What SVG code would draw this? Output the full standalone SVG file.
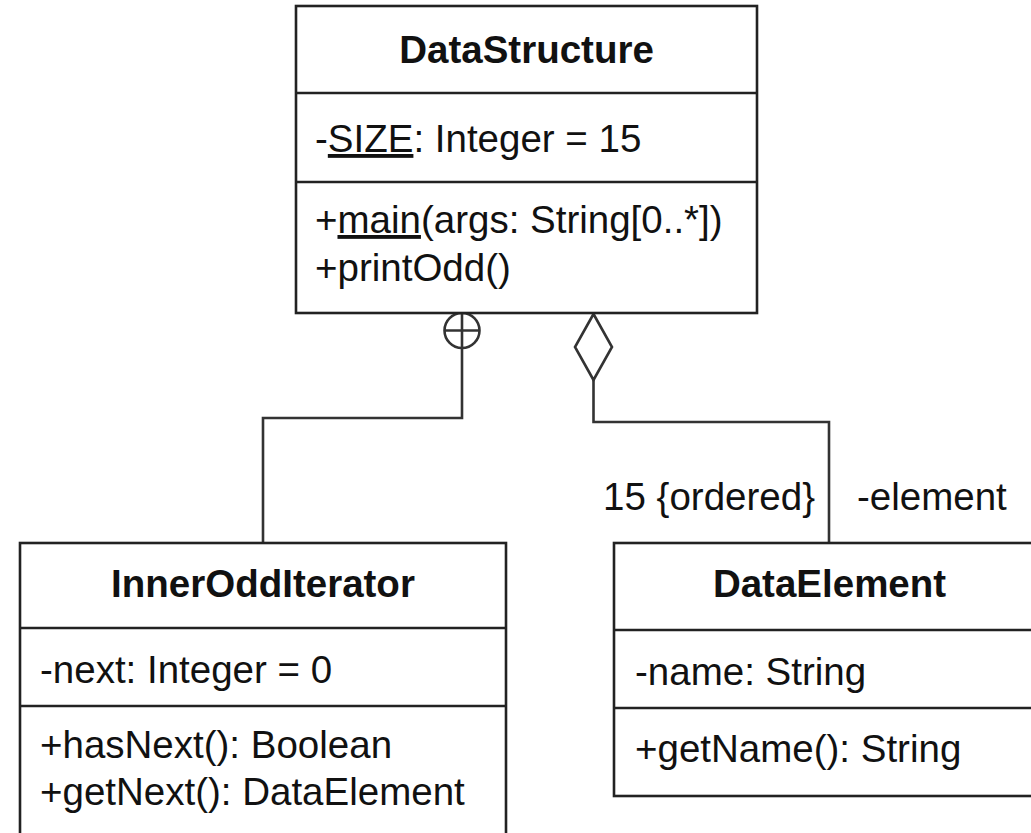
<svg xmlns="http://www.w3.org/2000/svg" width="1031" height="833" viewBox="0 0 1031 833">
<style>
.box{fill:#fff;stroke:#222;stroke-width:2.6}
.sep{stroke:#222;stroke-width:2.6}
.ln{fill:none;stroke:#333;stroke-width:2.6}
.t{font-family:"Liberation Sans",Arial,sans-serif;font-size:38.5px;fill:#111}
.b{font-weight:bold;text-anchor:middle}
.u{text-decoration:underline}
</style>
<rect width="1031" height="833" fill="#fff"/>
<g id="connectors">
<circle class="ln" cx="462" cy="330.5" r="17.5"/>
<line class="ln" x1="444.5" y1="330.5" x2="479.5" y2="330.5"/>
<polyline class="ln" points="462,313 462,418 263,418 263,543"/>
<polygon class="ln" points="593.5,314 612,347 593.5,380 575,347"/>
<polyline class="ln" points="593.5,380 593.5,422 829,422 829,543"/>
<text class="t" x="815" y="510" text-anchor="end">15 {ordered}</text>
<text class="t" x="857" y="510">-element</text>
</g>
<g id="DataStructure">
<rect class="box" x="296" y="6" width="461" height="307"/>
<line class="sep" x1="296" y1="93" x2="757" y2="93"/>
<line class="sep" x1="296" y1="182" x2="757" y2="182"/>
<text class="t b" x="526.5" y="63">DataStructure</text>
<text class="t" x="315" y="152">-<tspan class="u">SIZE</tspan>: Integer = 15</text>
<text class="t" x="315" y="233">+<tspan class="u">main</tspan>(args: String[0..*])</text>
<text class="t" x="315" y="281">+printOdd()</text>
</g>
<g id="InnerOddIterator">
<rect class="box" x="20" y="543" width="486" height="310"/>
<line class="sep" x1="20" y1="628" x2="506" y2="628"/>
<line class="sep" x1="20" y1="706" x2="506" y2="706"/>
<text class="t b" x="263" y="597">InnerOddIterator</text>
<text class="t" x="40" y="683">-next: Integer = 0</text>
<text class="t" x="40" y="758">+hasNext(): Boolean</text>
<text class="t" x="40" y="805">+getNext(): DataElement</text>
</g>
<g id="DataElement">
<rect class="box" x="614" y="543" width="431" height="253"/>
<line class="sep" x1="614" y1="630" x2="1045" y2="630"/>
<line class="sep" x1="614" y1="708" x2="1045" y2="708"/>
<text class="t b" x="829.5" y="597">DataElement</text>
<text class="t" x="635" y="685">-name: String</text>
<text class="t" x="635" y="762">+getName(): String</text>
</g>
</svg>
